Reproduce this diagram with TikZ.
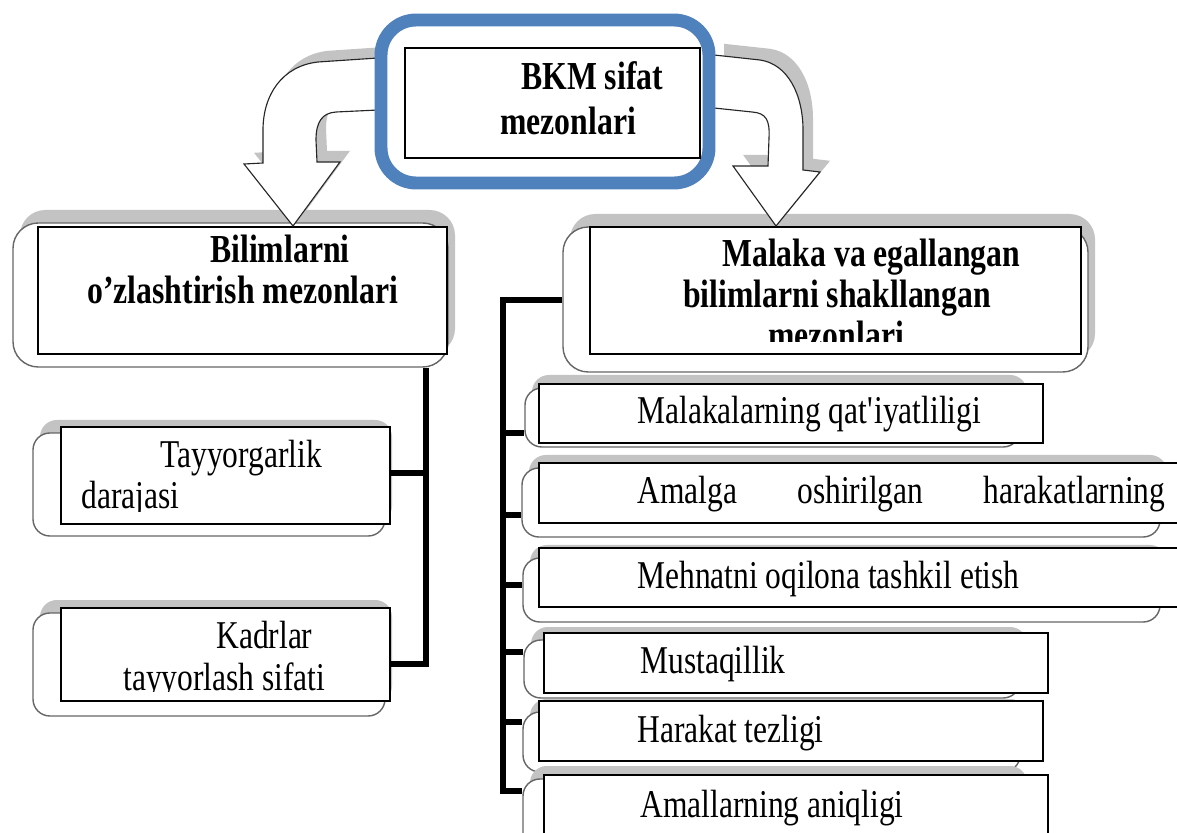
\documentclass[tikz,border=0pt]{standalone}
\usepackage{fontspec}
\setmainfont[FakeStretch=0.8]{Liberation Serif}
\usetikzlibrary{fit,shadows}
\definecolor{ringblue}{RGB}{79,129,189}
\definecolor{shadowgray}{RGB}{195,195,195}

\begin{document}
\begin{tikzpicture}[x=0.025cm, y=-0.025cm,
    outl/.style={draw=black!60, line width=1pt, fill=white, rounded corners=12pt, inner sep=0pt,
        drop shadow={shadow xshift=0.175cm, shadow yshift=0.325cm, fill=shadowgray, opacity=1}},
    inbox/.style={draw=black, line width=0.8pt, fill=white, inner sep=0pt},
    lbl/.style={font=\fontsize{28}{34}\selectfont, anchor=base west, inner sep=0pt},
    blbl/.style={lbl, font=\fontsize{28.2}{34}\selectfont\bfseries},
    trunk/.style={line width=4.6pt, black},
    blockarrow/.style={draw=black!85, line width=0.8pt, fill=white,
        drop shadow={shadow xshift=0.25cm, shadow yshift=0.28cm, fill=shadowgray, opacity=1}}]
    \useasboundingbox (0,0) rectangle (1177,833);
    \clip (0,0) rectangle (1177,833);

    % second level
    \node[outl, rounded corners=18pt, fit={(13,223) (448,367)}] (bilO) {};
    \node[inbox, fit={(38,227) (447,354)}] (bil) {};
    \node[outl, rounded corners=18pt, fit={(563,227) (1088,372)}] (malO) {};
    \node[inbox, fit={(590,227) (1081,354)}] (mal) {};

    % left column
    \node[outl, fit={(33,433) (385,536)}] (tayO) {};
    \node[inbox, fit={(61,427) (390,524)}] (tay) {};
    \node[outl, fit={(33,613) (385,716)}] (kadO) {};
    \node[inbox, fit={(61,608) (390,701)}] (kad) {};

    % right column
    \node[outl, fit={(525,388) (1020,447)}] (qatO) {};
    \node[inbox, fit={(539,384) (1043,443)}] (qat) {};
    \node[outl, fit={(522,468) (1160,537)}] (amaO) {};
    \node[inbox, fit={(539,463) (1195,523)}] (ama) {};
    \node[outl, fit={(523,558) (1160,622)}] (mehO) {};
    \node[inbox, fit={(539,548) (1195,607)}] (meh) {};
    \node[outl, fit={(524,640) (1020,698)}] (musO) {};
    \node[inbox, fit={(544,633) (1048,693)}] (mus) {};
    \node[outl, fit={(523,712) (1020,772)}] (tezO) {};
    \node[inbox, fit={(539,701) (1043,761)}] (tez) {};
    \node[outl, fit={(523,779) (1020,860)}] (aniO) {};
    \node[inbox, fit={(544,775) (1048,860)}] (ani) {};

    % tree lines
    \coordinate (lk1) at (426,473);
    \coordinate (lk2) at (426,664);
    \draw[trunk] (bilO.south -| lk1) -- (lk2) -- (lk2 -| kad.east);
    \draw[trunk] (lk1) -- (lk1 -| tay.east);

    \coordinate (rk0) at (503,300);
    \coordinate (rk6) at (503,791);
    \draw[trunk] (rk0 -| malO.west) -- (rk0) -- (rk6) -- (rk6 -| aniO.west);
    \foreach \y/\b in {433/qatO, 515/amaO, 585/mehO, 652/musO, 722/tezO}
        \draw[trunk] (503,\y) -- (\b.west |- 0,\y);

    % texts
    \begin{scope}
        \clip (590,227) rectangle (1081,341);
        \node[blbl] (malt1) at (722,267) {Malaka va egallangan};
        \node[blbl] (malt2) at (683,308) {bilimlarni shakllangan};
        \node[blbl] (malt3) at (768,349) {mezonlari};
    \end{scope}
    \node[blbl] (bilt1) at (210,263) {Bilimlarni};
    \node[blbl] (bilt2) at (87,304) {o’zlashtirish mezonlari};
    \begin{scope}
        \clip (61,427) rectangle (390,511);
        \node[lbl] (tayt1) at (160,467) {Tayyorgarlik};
        \node[lbl] (tayt2) at (81,508) {darajasi};
    \end{scope}
    \begin{scope}
        \clip (61,608) rectangle (390,691);
        \node[lbl] (kadt1) at (216,648) {Kadrlar};
        \node[lbl] (kadt2) at (123,690) {tayyorlash sifati};
    \end{scope}
    \node[lbl] (qatt) at (637,423) {Malakalarning qat\textquotesingle iyatliligi};
    \node[lbl] (amat) at (637,503) {\makebox[375.6pt][s]{Amalga oshirilgan harakatlarning}};
    \node[lbl] (meht) at (637,588) {Mehnatni oqilona tashkil etish};
    \node[lbl] (must) at (640,673) {Mustaqillik};
    \node[lbl] (tezt) at (637,742) {Harakat tezligi};
    \node[lbl] (anit) at (640,817) {Amallarning aniqligi};

    % curved block arrows
    \coordinate (ltip) at (293,226);
    \coordinate (rtip) at (776,226);
    \path[blockarrow] (378,58) -- (318,62) .. controls (282,66) and (263,95) .. (263,130)
        -- (263,163) -- (244,164) -- (ltip) -- (340,162) -- (317,162) -- (316,140)
        .. controls (316,122) and (322,113) .. (336,112) -- (378,110) -- cycle;
    \path[blockarrow] (714,55) -- (760,60) .. controls (788,64) and (803,95) .. (803,130)
        -- (803,170) -- (820,172) -- (rtip) -- (733,166) -- (768,166) -- (769,138)
        .. controls (770,120) and (766,113) .. (752,112) -- (714,108) -- cycle;

    % top
    \node[draw=ringblue, line width=9.2pt, fill=white, rounded corners=25pt, inner sep=0pt,
        fit={(381,20) (709,183)}] (top) {};
    \node[inbox, fit={(405,48) (700,158)}] (bkm) {};
    \node[blbl] (bkmt1) at (521,90) {BKM sifat};
    \node[blbl] (bkmt2) at (500,135) {mezonlari};
\end{tikzpicture}
\end{document}
